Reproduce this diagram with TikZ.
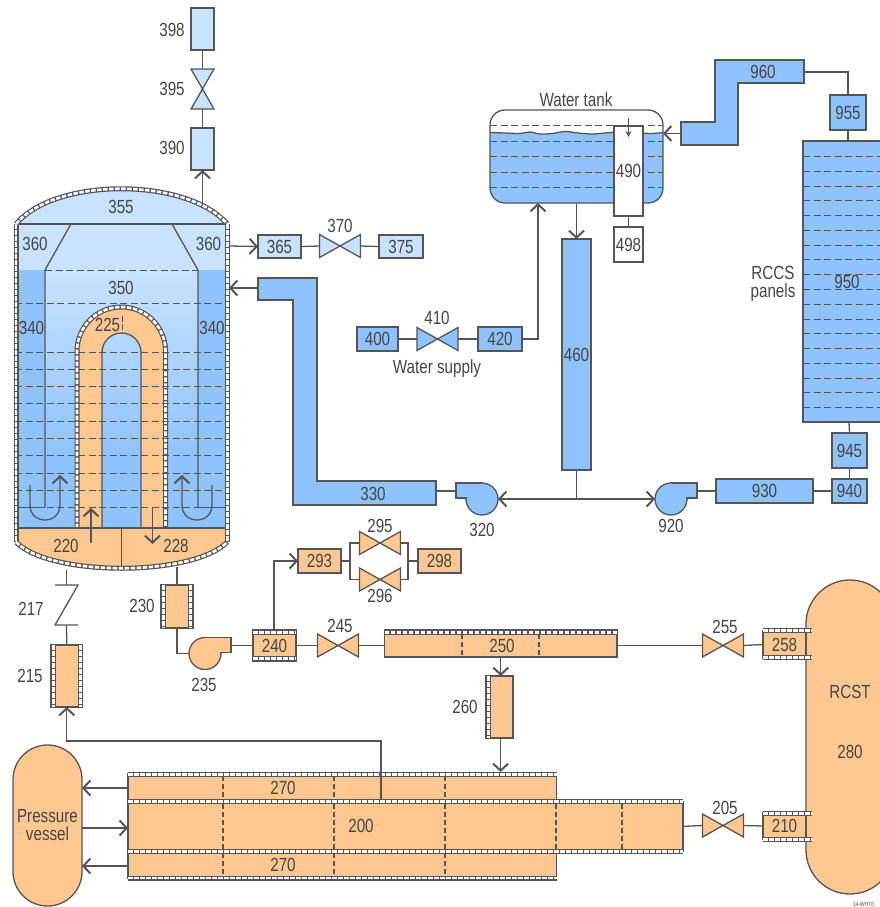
\documentclass[tikz,border=0pt]{standalone}
\usepackage{fontspec}
\setmainfont[FakeStretch=0.8]{Liberation Sans}
\usetikzlibrary{arrows.meta}
\definecolor{dk}{HTML}{555555}
\definecolor{tx}{HTML}{454545}
\definecolor{org}{HTML}{FFC890}
\definecolor{blu}{HTML}{8FC3FF}
\definecolor{lt}{HTML}{C9E3FF}
\newcommand\lbl{\fontsize{19}{19}\selectfont}
\tikzset{
  bxs/.style={draw=dk,line width=1.3pt,inner sep=0pt,outer sep=0pt,font=\lbl,text=tx},
  nobox/.style={inner sep=0pt,outer sep=0pt},
  lab/.style={font=\lbl,text=tx,inner sep=0pt,align=center},
  conn/.style={draw=dk,line width=1.3pt},
  arr/.style={conn,-{Straight Barb[length=7pt,width=15pt,line width=2pt]}},
  dashh/.style={draw=dk,line width=1.7pt,dash pattern=on 7pt off 3.5pt},
  dashv/.style={draw=dk,line width=1.1pt,dash pattern=on 5pt off 3pt},
  wallpipe/.style={draw=dk,line width=5pt,postaction={draw=white,line width=2.6pt,dash pattern=on 4.5pt off 1.5pt}},
  outl/.style={draw=dk,line width=1.3pt}
}
\newcommand\bx[7]{%
  \pgfmathsetmacro\cxx{(#2+#4)/2}\pgfmathsetmacro\cyy{(#3+#5)/2}%
  \pgfmathsetmacro\wid{#4-#2}\pgfmathsetmacro\hei{#5-#3}%
  \node[bxs,fill=#6,minimum width=\wid pt,minimum height=\hei pt] (#1) at (\cxx,\cyy) {#7};}
\newcommand\hv[4]{%
  \node[nobox,minimum width=41pt,minimum height=23pt] (#1) at (#2,#3) {};
  \filldraw[fill=#4,outl] (#1.north west) -- (#1.south east) -- (#1.north east) -- (#1.south west) -- cycle;}
\newcommand\vv[4]{%
  \node[nobox,minimum width=23pt,minimum height=40pt] (#1) at (#2,#3) {};
  \filldraw[fill=#4,outl] (#1.north west) -- (#1.north east) -- (#1.south west) -- (#1.south east) -- cycle;}
\newcommand\pump[5]{% name, cx, cy, xscale, fill
  \begin{scope}[shift={(#2,#3)},xscale=#4]
    \coordinate (#1o) at (26,-8);
    \coordinate (#1i) at (-16,0);
    \filldraw[fill=#5,outl] (0,-16) -- (26,-16) -- (26,-1) -- (16,-1) -- (16,0) -- (0,0) -- cycle;
    \filldraw[fill=#5,outl] (0,0) circle[radius=16pt];
    \fill[#5] (0,-15.3) rectangle (25.3,-1.7);
  \end{scope}}
\begin{document}
\begin{tikzpicture}[x=1pt,y=-1pt]
\useasboundingbox (0,0) rectangle (880,907);
\clip (0,0) rectangle (880,907);

% ---------- reactor vessel ----------
\fill[lt] (15,224) .. controls (55,177) and (187,177) .. (228,224) -- cycle;
\fill[lt] (15,224) rectangle (228,270);
\shade[top color=lt,bottom color=blu] (45,270) rectangle (198,455);
\fill[blu] (45,454) rectangle (198,528);
\fill[blu] (15,270) rectangle (45,528);
\fill[blu] (198,270) rectangle (228,528);
\begin{scope}
  \clip (0,200) rectangle (240,528);
  \fill[org,rounded corners=44.2pt] (77,640) -- (77,307) -- (165.5,307) -- (165.5,640) -- cycle;
  \begin{scope}
    \clip[rounded corners=19.5pt] (102,600) -- (102,333) -- (141,333) -- (141,600) -- cycle;
    \shade[top color=lt,bottom color=blu] (45,270) rectangle (198,455);
    \fill[blu] (45,454) rectangle (198,528);
  \end{scope}
\end{scope}
\draw[outl,rounded corners=19.5pt] (102,528) -- (102,333) -- (141,333) -- (141,528);
\draw[wallpipe,rounded corners=44.2pt] (77,528) -- (77,307) -- (165.5,307) -- (165.5,528);
\fill[org] (15,528) -- (228,528) -- (228,542) .. controls (193,577) and (50,577) .. (15,542) -- cycle;
\foreach \yy in {303.5,352.5,369.5,386.5,403.5,421.5,438.5,455.5,473.5,490.5,507.5}
  \draw[dashh] (15,\yy) -- (228,\yy);
\draw[dashh] (45,270.5) -- (198,270.5);
\draw[outl] (15,224) -- (228,224);
\draw[outl] (71,224) -- (45,270) -- (45,507);
\draw[outl] (172,224) -- (198,270) -- (198,507);
\draw[outl] (15,507.5) -- (45,507.5);
\draw[outl] (198,507.5) -- (228,507.5);
\draw[outl] (15,528) -- (228,528);
\draw[outl] (121.5,528) -- (121.5,570);
\draw[wallpipe] (16,224) -- (16,542);
\draw[wallpipe] (227.3,224) -- (227.3,542);
\draw[wallpipe] (16,224) .. controls (55,177) and (187,177) .. (227.3,224);
\draw[wallpipe] (16,542) .. controls (50,577) and (193,577) .. (227.3,542);
\draw[dk,line width=0.9pt,dash pattern=on 6pt off 2pt] (122,316) -- (122,333);
% internal flow arrows
\coordinate (fa1) at (91,543); \coordinate (fa2) at (91,508);
\coordinate (fb1) at (152.5,507); \coordinate (fb2) at (152.5,544);
\draw[arr] (fa1) -- (fa2);
\draw[arr] (fb1) -- (fb2);
\coordinate (ca1) at (30,485); \coordinate (ca2) at (60,475);
\coordinate (cb1) at (212,485); \coordinate (cb2) at (182,475);
\draw[arr] (ca1) -- (30,505) .. controls (30,525) and (60,525) .. (60,505) -- (ca2);
\draw[arr] (cb1) -- (212,505) .. controls (212,525) and (182,525) .. (182,505) -- (cb2);
\node[lab] (l355) at (121,207) {355};
\node[lab] (l360a) at (35,244) {360};
\node[lab] (l360b) at (208.5,244) {360};
\node[lab] (l350) at (121,288) {350};
\node[lab] (l340a) at (31.5,328) {340};
\node[lab] (l340b) at (212,328) {340};
\node[lab] (l225) at (107.5,325) {225};
\node[lab] (l220) at (66,546) {220};
\node[lab] (l228) at (176,546) {228};

% ---------- top stack ----------
\bx{n398}{191}{8}{214}{50}{lt}{}
\vv{v395}{202.5}{89}{lt}
\bx{n390}{191}{128}{214}{170}{lt}{}
\node[lab] (l398) at (172,30) {398};
\node[lab] (l395) at (172,89) {395};
\node[lab] (l390) at (172,148) {390};
\draw[conn] (n398.south) -- (v395.north);
\draw[conn] (v395.south) -- (n390.north);
\coordinate (dometop) at (202.5,205);
\draw[arr] (dometop) -- (n390.south);

% ---------- 365 line ----------
\coordinate (ves360) at (229,246);
\bx{n365}{258}{235}{301}{258}{lt}{365}
\hv{v370}{340}{246}{lt}
\bx{n375}{379}{235}{423}{258}{lt}{375}
\node[lab] (l370) at (340,226) {370};
\draw[arr] (ves360) -- (n365.west);
\draw[conn] (n365.east) -- (v370.west);
\draw[conn] (v370.east) -- (n375.west);

% ---------- 330 pipe ----------
\filldraw[fill=blu,outl] (258,278) -- (317,278) -- (317,481) -- (436,481) -- (436,505) -- (293,505) -- (293,300) -- (258,300) -- cycle;
\node[lab] (l330) at (373,494) {330};
\coordinate (p330a) at (258,288);
\coordinate (ves330) at (229,288);
\coordinate (p330b) at (436,491);
\draw[arr] (p330a) -- (ves330);
\pump{p320}{482}{499}{-1}{blu}
\node[lab] (l320) at (482,530) {320};
\draw[conn] (p330b) -- (p320o);

% ---------- water supply ----------
\bx{n400}{357}{327}{398}{351}{blu}{400}
\hv{v410}{437.5}{339}{blu}
\bx{n420}{478}{327}{522}{351}{blu}{420}
\node[lab] (l410) at (437,318) {410};
\node[lab] (lws) at (437,369) {Water supply};
\draw[conn] (n400.east) -- (v410.west);
\draw[conn] (v410.east) -- (n420.west);
\coordinate (tankin) at (538,203);
\draw[arr] (n420.east) -| (tankin);

% ---------- water tank ----------
\newcommand\wavepts{(490,132.5)(505,133)(520,133.5)(530,132)(540,134)(552,133.5)(565,131.5)(578,133)(592,134)(605,133)(620,132)(640,133)(652,133.5)(663,132.5)}
\begin{scope}
  \clip[rounded corners=15pt] (490,110) rectangle (663,203);
  \fill[blu] plot[smooth] coordinates {\wavepts} -- (663,203) -- (490,203) -- cycle;
  \draw[outl] plot[smooth] coordinates {\wavepts};
\end{scope}
\foreach \yy in {125.5,141.5,156.5,172.5,187.5}
  \draw[dashh] (490,\yy) -- (663,\yy);
\node[bxs,rounded corners=15pt,minimum width=173pt,minimum height=93pt] (tank) at (576.5,156.5) {};
\node[lab] (lwt) at (576,100) {Water tank};
\bx{n490}{614}{126}{643}{216}{white}{490}
\bx{n498}{614}{227}{643}{262}{white}{498}
\draw[conn] (n490.south) -- (n498.north);
\coordinate (sm1) at (628.5,118); \coordinate (sm2) at (628.5,137);
\draw[conn,-{Stealth[length=6pt,width=6pt]}] (sm1) -- (sm2);

\bx{n460}{562}{239}{591}{470}{blu}{460}
\draw[arr] (tank.south) -- (n460.north);
\coordinate (j1) at (576.5,499);
\draw[conn] (n460.south) -- (j1);
\pump{p920}{671}{499}{1}{blu}
\node[lab] (l920) at (671,526) {920};
\draw[arr] (j1) -- (p320i);
\draw[arr] (j1) -- (p920i);

% ---------- 960 / RCCS ----------
\filldraw[fill=blu,outl] (715,60) -- (804,60) -- (804,83) -- (738,83) -- (738,145) -- (681,145) -- (681,122) -- (715,122) -- cycle;
\node[lab] (l960) at (763,72) {960};
\coordinate (p960a) at (681,133.5);
\coordinate (tankr) at (663,133.5);
\coordinate (p960b) at (804,72);
\draw[arr] (p960a) -- (tankr);
\bx{n955}{830}{95}{866}{130}{blu}{955}
\bx{n950}{803}{141}{900}{422}{blu}{}
\draw[conn] (p960b) -| (n955.north);
\coordinate (t950) at (848,141);
\coordinate (b950) at (849,422);
\draw[conn] (n955.south) -- (t950);
\foreach \ii in {0,...,17}
  \draw[dashh] (803,{round(156+14.78*\ii)+0.5}) -- (880,{round(156+14.78*\ii)+0.5});
\node[lab] (l950) at (847,282) {950};
\node[lab] (lrccs) at (773,284) {RCCS\\[-0.5pt]panels};
\bx{n945}{832}{433}{867}{468}{blu}{945}
\bx{n940}{832}{479}{867}{503}{blu}{940}
\bx{n930}{716}{479}{813}{503}{blu}{930}
\draw[conn] (b950) -- (n945.north);
\draw[conn] (n945.south) -- (n940.north);
\draw[conn] (n940.west) -- (n930.east);
\draw[conn] (n930.west) -- (p920o);

% ---------- tanks ----------
\node[bxs,fill=org,rounded corners=44pt,minimum width=88pt,minimum height=314pt] (rcst) at (850,737) {};
\node[lab] (lrcst) at (850,692) {RCST};
\node[lab] (l280) at (850,752) {280};
\node[bxs,fill=org,rounded corners=34.5pt,minimum width=69pt,minimum height=161pt,align=center] (pv) at (47.5,825.5) {Pressure\\[-1pt]vessel};

% ---------- 217 / 215 ----------
\coordinate (ves217) at (66.5,570);
\coordinate (z1) at (66.5,585); \coordinate (z2) at (66.5,625);
\draw[conn] (ves217) -- (z1);
\draw[conn] (55,585) -- (78,585) -- (55,625) -- (78,625);
\bx{n215}{51}{645}{82.5}{707}{org}{}
\draw[wallpipe] (53.3,645) -- (53.3,707);
\draw[wallpipe] (80.2,645) -- (80.2,707);
\draw[conn] (z2) -- (n215.north);
\node[lab] (l217) at (31,609) {217};
\node[lab] (l215) at (30,676) {215};

% ---------- 230 / 235 / 240 ----------
\coordinate (ves230) at (177,567);
\bx{n230}{161}{585}{193}{628}{org}{}
\draw[wallpipe] (163.3,585) -- (163.3,628);
\draw[wallpipe] (190.7,585) -- (190.7,628);
\draw[conn] (ves230) -- (n230.north);
\node[lab] (l230) at (142,606) {230};
\pump{p235}{205}{653.5}{1}{org}
\node[lab] (l235) at (204,685) {235};
\draw[conn] (n230.south) |- (p235i);
\bx{n240}{253}{630}{296}{661}{org}{240}
\draw[wallpipe] (253,632.3) -- (296,632.3);
\draw[wallpipe] (253,658.7) -- (296,658.7);
\draw[conn] (p235o) -- (n240.west);
\hv{v245}{338}{645.5}{org}
\node[lab] (l245) at (340,626) {245};
\draw[conn] (n240.east) -- (v245.west);

% ---------- 293 group ----------
\bx{n293}{298}{549}{341}{573}{org}{293}
\bx{n298}{418}{549}{461}{573}{org}{298}
\hv{v295}{380}{543}{org}
\hv{v296}{380}{579.5}{org}
\node[lab] (l295) at (380,526) {295};
\node[lab] (l296) at (380,596) {296};
\coordinate (bl) at (350,561); \coordinate (br) at (408,561);
\coordinate (t240) at (274,630);
\draw[arr] (t240) |- (n293.west);
\draw[conn] (n293.east) -- (bl);
\draw[conn] (v295.west) -| (bl);
\draw[conn] (v296.west) -| (bl);
\draw[conn] (v295.east) -| (br);
\draw[conn] (v296.east) -| (br);
\draw[conn] (br) -- (n298.west);

% ---------- 250 / 260 / 255 / 258 ----------
\bx{n250}{384.5}{630}{617}{657}{org}{}
\draw[wallpipe] (384.5,632.3) -- (617,632.3);
\foreach \xx in {462,539} \draw[dashv] (\xx,634) -- (\xx,657);
\node[lab] (l250) at (502,646) {250};
\coordinate (w250) at (384.5,645.5);
\coordinate (e250) at (617,645.5);
\draw[conn] (v245.east) -- (w250);
\hv{v255}{723}{645.5}{org}
\node[lab] (l255) at (725,627) {255};
\draw[conn] (e250) -- (v255.west);
\bx{n258}{763}{631}{806}{658}{org}{258}
\draw[wallpipe] (763,630.3) -- (812,630.3);
\draw[wallpipe] (763,657.7) -- (812,657.7);
\draw[conn] (v255.east) -- (n258.west);
\bx{n260}{486}{676}{513}{738}{org}{}
\draw[wallpipe] (488.2,676) -- (488.2,738);
\node[lab] (l260) at (465,707) {260};
\draw[arr] (n250.south) -- (n250.south |- n260.north);

% ---------- 200 / 270 ----------
\bx{n270a}{128}{774}{556.5}{802}{org}{}
\bx{n270b}{128}{851}{556.5}{878}{org}{}
\bx{n200}{128}{801.5}{683}{851.2}{org}{}
\foreach \xx in {223,334,445} {
  \draw[dashv] (\xx,776) -- (\xx,800);
  \draw[dashv] (\xx,853) -- (\xx,876);
}
\foreach \xx in {223,334,445,556,622}
  \draw[dashv] (\xx,804) -- (\xx,849);
\draw[wallpipe] (128,774.3) -- (556.5,774.3);
\draw[wallpipe] (128,801.5) -- (683,801.5);
\draw[wallpipe] (128,851.2) -- (683,851.2);
\draw[wallpipe] (128,878) -- (556.5,878);
\node[lab] (l270a) at (283,788) {270};
\node[lab] (l200) at (361,825.5) {200};
\node[lab] (l270b) at (283,865) {270};
\coordinate (a260) at (500.6,738);
\coordinate (b260) at (500.6,772);
\draw[arr] (a260) -- (b260);
\coordinate (s200) at (381,800);
\coordinate (c215) at (381,741);
\draw[arr] (s200) -- (c215) -| (n215.south);
\coordinate (a1) at (128,788); \coordinate (a1p) at (82,788);
\coordinate (a2) at (128,828); \coordinate (a2p) at (82,828);
\coordinate (a3) at (128,866); \coordinate (a3p) at (82,866);
\draw[arr] (a1) -- (a1p);
\draw[arr] (a2p) -- (a2);
\draw[arr] (a3) -- (a3p);

% ---------- 205 / 210 ----------
\hv{v205}{723}{825.5}{org}
\node[lab] (l205) at (725,808) {205};
\draw[conn] (n200.east) -- (v205.west);
\bx{n210}{763}{813}{806}{839}{org}{210}
\draw[wallpipe] (763,813.3) -- (812,813.3);
\draw[wallpipe] (763,839.7) -- (812,839.7);
\draw[conn] (v205.east) -- (n210.west);

\node[anchor=west,inner sep=0pt,text=tx,font=\fontsize{6}{7}\selectfont] (lid) at (853,904) {14-WHT0};
\end{tikzpicture}
\end{document}
